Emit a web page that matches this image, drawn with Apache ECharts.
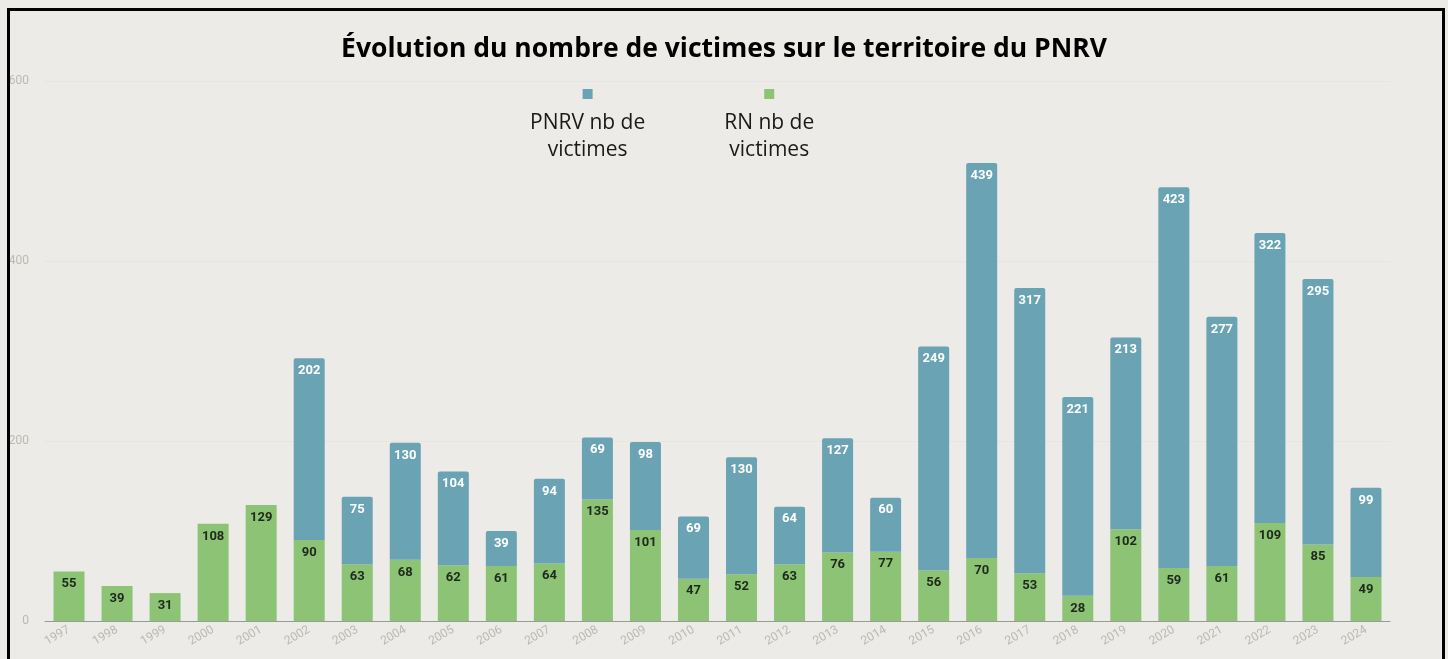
<!DOCTYPE html>
<html>
<head>
<meta charset="utf-8">
<script src="https://cdn.jsdelivr.net/npm/echarts@6/dist/echarts.min.js"></script>
<style>
html,body{margin:0;padding:0;background:#edebe7;}
#c{width:1448px;height:659px;}
</style>
</head>
<body>
<div id="c"></div>
<script>
const years = ['1997','1998','1999','2000','2001','2002','2003','2004','2005','2006','2007','2008','2009','2010','2011','2012','2013','2014','2015','2016','2017','2018','2019','2020','2021','2022','2023','2024'];
const rnVictims = [55,39,31,108,129,90,63,68,62,61,64,135,101,47,52,63,76,77,56,70,53,28,102,59,61,109,85,49];
const pnrvVictims = [null,null,null,null,null,202,75,130,104,39,94,69,98,69,130,64,127,60,249,439,317,221,213,423,277,322,295,99];
const yTicks = [0,200,400,600];

const BLUE = '#6aa3b3';
const GREEN = '#8cc375';

const chart = echarts.init(document.getElementById('c'));
chart.setOption({
  backgroundColor: '#edebe7',
  animation: false,
  title: {
    text: 'Évolution du nombre de victimes sur le territoire du PNRV',
    left: 'center',
    top: 31,
    textStyle: {fontFamily: 'Open Sans', fontWeight: 'bold', fontSize: 26.5, color: '#000'}
  },
  legend: {
    top: 83,
    left: 520,
    itemGap: 74,
    icon: 'none',
    itemWidth: 0,
    itemHeight: 0,
    selectedMode: false,
    data: ['PNRV nb de victimes', 'RN nb de victimes'],
    formatter: function (name) {
      if (name.indexOf('PNRV') === 0) return '{b|}\n{t|PNRV nb de}\n{t|victimes}';
      return '{g|}\n{t|RN nb de}\n{t|victimes}';
    },
    textStyle: {
      align: 'center',
      rich: {
        b: {backgroundColor: BLUE, width: 10, height: 10, lineHeight: 32, align: 'center'},
        g: {backgroundColor: GREEN, width: 10, height: 10, lineHeight: 32, align: 'center'},
        t: {fontFamily: 'Open Sans', fontSize: 21, color: '#1a1a1a', lineHeight: 27, align: 'center'}
      }
    }
  },
  grid: {left: 45, right: 58, top: 81, bottom: 38},
  xAxis: {
    type: 'category',
    data: years,
    axisLine: {lineStyle: {color: '#9a9a9a'}},
    axisTick: {show: false},
    axisLabel: {rotate: 30, color: '#bcb9b4', fontFamily: 'Roboto', fontSize: 12, margin: 8}
  },
  yAxis: {
    type: 'value',
    min: 0, max: 600, interval: 200,
    axisLine: {show: false},
    axisTick: {show: false},
    axisLabel: {color: '#bcb9b4', fontFamily: 'Roboto', fontSize: 12, margin: 16,
      formatter: v => yTicks.includes(v) ? String(v) : ''},
    splitLine: {lineStyle: {color: 'rgba(0,0,0,0.025)'}}
  },
  graphic: [{
    type: 'rect',
    shape: {x: 8.5, y: 9.5, width: 1435, height: 700},
    style: {fill: 'none', stroke: '#000', lineWidth: 3},
    silent: true, z: 100
  }],
  series: [
    {
      name: 'RN nb de victimes',
      type: 'bar',
      stack: 'v',
      data: rnVictims,
      barWidth: 31,
      itemStyle: {color: GREEN},
      label: {show: true, position: 'insideTop', distance: 6, color: '#1f2a1c',
        fontFamily: 'Roboto', fontWeight: 'bold', fontSize: 13}
    },
    {
      name: 'PNRV nb de victimes',
      type: 'bar',
      stack: 'v',
      data: pnrvVictims,
      barWidth: 31,
      itemStyle: {color: BLUE, borderRadius: [2,2,0,0]},
      label: {show: true, position: 'insideTop', distance: 6, color: '#ffffff',
        fontFamily: 'Roboto', fontWeight: 'bold', fontSize: 13}
    }
  ]
});
</script>
</body>
</html>
